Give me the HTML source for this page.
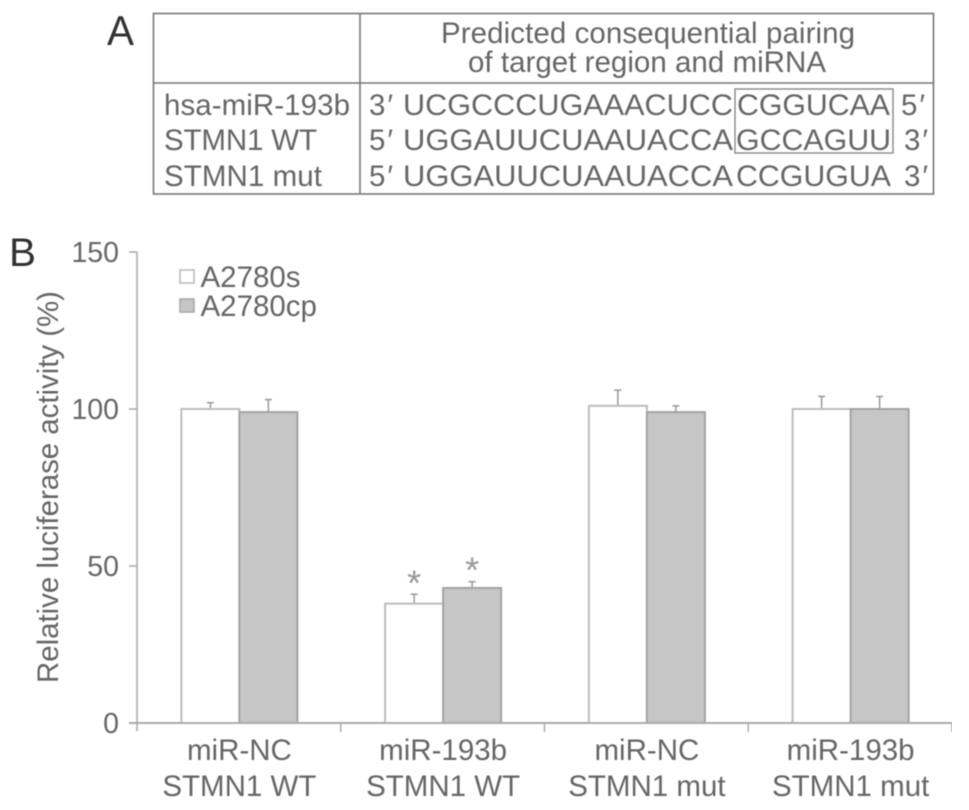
<!DOCTYPE html>
<html>
<head>
<meta charset="utf-8">
<title>Luciferase activity figure</title>
<style>
html,body{margin:0;padding:0;background:#fff;width:969px;height:810px;overflow:hidden}
svg{display:block}
text{font-family:"Liberation Sans",sans-serif;fill:#666}
</style>
</head>
<body>
<svg id="fig" width="969" height="810" viewBox="0 0 969 810">
  <g filter="url(#soft)" id="root">
    <text x="107" y="45" font-size="42" style="fill:#333" textLength="27" lengthAdjust="spacingAndGlyphs">A</text>
    <text x="9" y="266" font-size="40" style="fill:#333" textLength="27" lengthAdjust="spacingAndGlyphs">B</text>

    <g fill="none" stroke="#777" stroke-width="1.6">
      <rect x="153.5" y="13.5" width="780" height="180.5"/>
      <line x1="153.5" y1="83" x2="933.5" y2="83"/>
      <line x1="360" y1="13.5" x2="360" y2="194"/>
      <rect x="735" y="89" width="158" height="64" stroke-width="1.4" stroke="#888"/>
    </g>

    <g font-size="29.5">
      <text x="441" y="43" textLength="414">Predicted consequential pairing</text>
      <text x="468" y="72" textLength="358">of target region and miRNA</text>
      <text x="164" y="115" textLength="186">hsa-miR-193b</text>
      <text x="164" y="150" textLength="153">STMN1 WT</text>
      <text x="164" y="186" textLength="158">STMN1 mut</text>
      <text x="369" y="115" textLength="24">3′</text>
      <text x="403" y="115" textLength="330" lengthAdjust="spacingAndGlyphs">UCGCCCUGAAACUCC</text>
      <text x="737" y="115" textLength="153" lengthAdjust="spacingAndGlyphs">CGGUCAA</text>
      <text x="901" y="115" textLength="24">5′</text>
      <text x="369" y="150" textLength="24">5′</text>
      <text x="403" y="150" textLength="330" lengthAdjust="spacingAndGlyphs">UGGAUUCUAAUACCA</text>
      <text x="736" y="150" textLength="155" lengthAdjust="spacingAndGlyphs">GCCAGUU</text>
      <text x="904" y="150" textLength="24">3′</text>
      <text x="369" y="186" textLength="24">5′</text>
      <text x="403" y="186" textLength="330" lengthAdjust="spacingAndGlyphs">UGGAUUCUAAUACCA</text>
      <text x="736" y="186" textLength="155" lengthAdjust="spacingAndGlyphs">CCGUGUA</text>
      <text x="904" y="186" textLength="24">3′</text>
    </g>

    <g id="chart"></g>
  </g>
  <defs>
    <filter id="soft" x="0" y="0" width="100%" height="100%"><feGaussianBlur stdDeviation="0.5"/></filter>
  </defs>
</svg>
<script>
const categoriesTop = ['miR-NC', 'miR-193b', 'miR-NC', 'miR-193b'];
const categoriesBottom = ['STMN1 WT', 'STMN1 WT', 'STMN1 mut', 'STMN1 mut'];
const seriesNames = ['A2780s', 'A2780cp'];
const a2780sValues = [100, 38, 101, 100];
const a2780cpValues = [99, 43, 99, 100];
const a2780sErrors = [2, 3, 5, 4];
const a2780cpErrors = [4, 2, 2, 4];
const a2780sSignificant = [false, true, false, false];
const a2780cpSignificant = [false, true, false, false];
const yTicks = [0, 50, 100, 150];
const axisTitle = 'Relative luciferase activity (%)';

const NS = 'http://www.w3.org/2000/svg';
const chart = document.getElementById('chart');
const plot = {left: 137, right: 952, top: 252, bottom: 723, yMax: 150, barW: 58};
function yScale(v) { return plot.bottom - (v / plot.yMax) * (plot.bottom - plot.top); }
function groupEdge(i) { return plot.left + i * (plot.right - plot.left) / categoriesTop.length; }
function groupCenter(i) { return groupEdge(i + 0.5) + 0.5; }
function make(tag, attrs, text) {
  const el = document.createElementNS(NS, tag);
  for (const k in attrs) el.setAttribute(k, attrs[k]);
  if (text !== undefined) el.textContent = text;
  chart.appendChild(el);
  return el;
}

function drawBar(i, seriesIndex, value, err, significant) {
  const cx = groupCenter(i);
  const x = seriesIndex === 0 ? cx - plot.barW : cx;
  const mid = x + plot.barW / 2;
  const top = yScale(value);
  const errTop = yScale(value + err);
  const stem = make('line', {x1: mid, x2: mid, y1: top, y2: errTop, stroke: '#999', 'stroke-width': 1.5});
  
  
  const cap = make('line', {x1: mid - 3.5, x2: mid + 3.5, y1: errTop, y2: errTop, stroke: '#999', 'stroke-width': 1.5});
  
  
  const bar = make('rect', {
    x: x, y: top, width: plot.barW, height: plot.bottom - top,
    fill: seriesIndex === 0 ? '#fff' : '#c6c6c6',
    stroke: seriesIndex === 0 ? '#bbb' : '#a2a2a2', 'stroke-width': 2
  });
  
  
  if (significant) {
    const star = make('text', {x: mid, y: errTop + 1, 'font-size': 36, 'text-anchor': 'middle', style: 'fill:#999'}, '*');
    
    
  }
}

categoriesTop.forEach(function (c, i) {
  drawBar(i, 0, a2780sValues[i], a2780sErrors[i], a2780sSignificant[i]);
  drawBar(i, 1, a2780cpValues[i], a2780cpErrors[i], a2780cpSignificant[i]);
});

const yAxis = make('line', {x1: plot.left, x2: plot.left, y1: plot.top, y2: plot.bottom + 8, stroke: '#bbb', 'stroke-width': 2});


const xAxis = make('line', {x1: plot.left - 8, x2: plot.right, y1: plot.bottom, y2: plot.bottom, stroke: '#aaa', 'stroke-width': 2});



yTicks.forEach(function (t) {
  const y = yScale(t);
  const tick = make('line', {x1: plot.left - 8, x2: plot.left, y1: y, y2: y, stroke: '#aaa', 'stroke-width': 1.6});
  
  
  const label = make('text', {x: 119, y: y + 10, 'font-size': 28.5, 'text-anchor': 'end'}, String(t));
  
  
});

for (let i = 1; i <= categoriesTop.length; i++) {
  const x = groupEdge(i);
  const tick = make('line', {x1: x, x2: x, y1: plot.bottom, y2: plot.bottom + 9, stroke: '#aaa', 'stroke-width': 1.5});
  
  
}

categoriesTop.forEach(function (c, i) {
  const cx = groupCenter(i);
  const top = make('text', {x: cx, y: 760, 'font-size': 29.5, 'text-anchor': 'middle'}, c);
  
  
  const bottom = make('text', {x: cx, y: 796, 'font-size': 29.5, 'text-anchor': 'middle'}, categoriesBottom[i]);
  
  
});

const title = make('text', {
  x: 58, y: 487, 'font-size': 29.5, 'text-anchor': 'middle',
  transform: 'rotate(-90 58 487)', textLength: 392
}, axisTitle);



seriesNames.forEach(function (name, i) {
  const y = 270 + i * 29;
  const swatch = make('rect', {
    x: 180, y: y, width: 14, height: 13,
    fill: i === 0 ? '#fff' : '#c6c6c6', stroke: i === 0 ? '#bbb' : '#aaa', 'stroke-width': 1.6
  });
  
  
  const label = make('text', {x: 200.5, y: y + 17, 'font-size': 29.5}, name);
  
  
});
</script>
</body>
</html>
